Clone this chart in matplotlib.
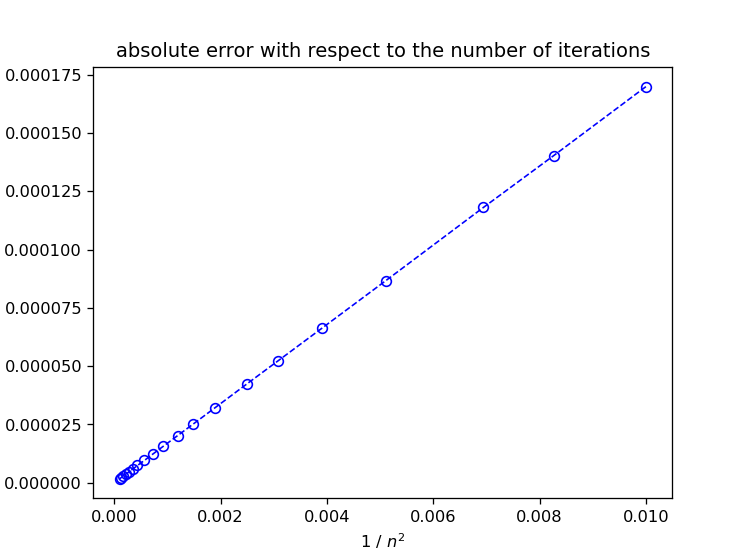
import matplotlib
matplotlib.use("Agg")
import matplotlib.pyplot as plt

inv_n2 = [0.01, 0.008264, 0.006944, 0.005102, 0.003906, 0.003086, 0.0025,
          0.001890, 0.001479, 0.001189, 0.000918, 0.000730, 0.000567,
          0.000434, 0.000343, 0.000269, 0.000210, 0.000164, 0.000129, 0.0001]
abs_err = [0.0001699, 0.0001403, 0.0001181, 0.0000866, 0.0000663, 0.0000524,
           0.0000425, 0.0000321, 0.0000251, 0.0000202, 0.0000156, 0.0000124,
           0.0000096, 0.0000074, 0.0000058, 0.0000046, 0.0000036, 0.0000028,
           0.0000022, 0.0000017]

fig, ax = plt.subplots(figsize=(6.4, 4.8), dpi=116.7)
ax.plot(inv_n2, abs_err, 'o--', color='blue', markerfacecolor='none',
        linewidth=1.0)
ax.set_title('absolute error with respect to the number of iterations')
ax.set_xlabel('1 / $n^2$')
fig.savefig('out.png', dpi=116.7)
